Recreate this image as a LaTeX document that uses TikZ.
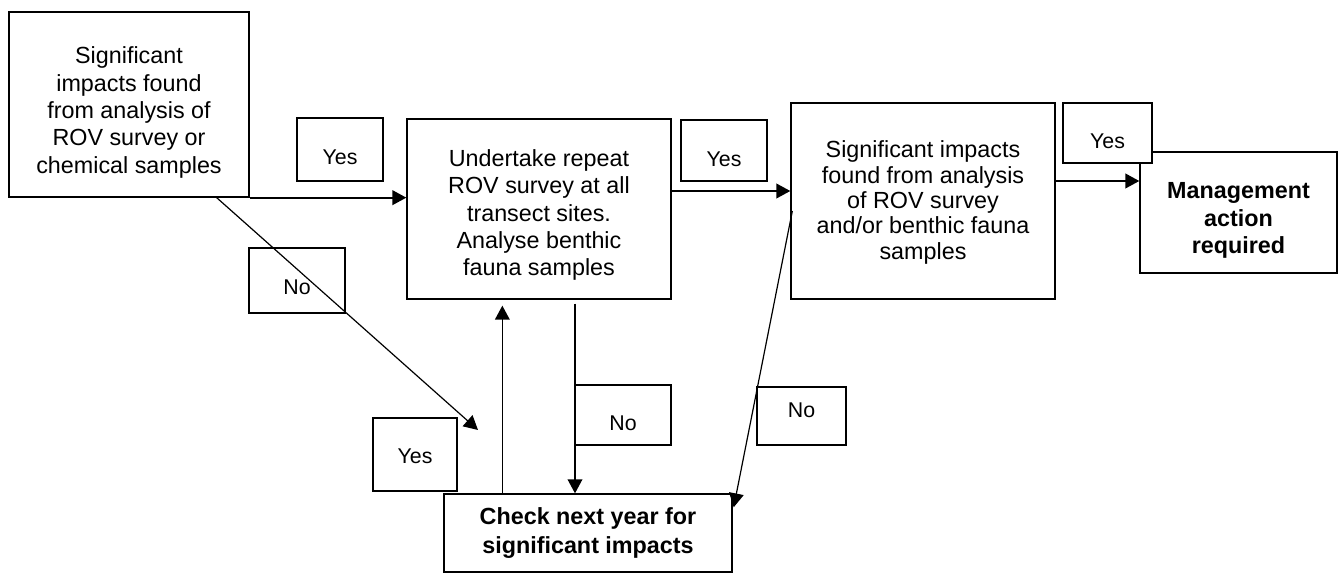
\documentclass[tikz,border=0pt]{standalone}
\usepackage{fontspec}
\setmainfont{Liberation Sans}
\usetikzlibrary{arrows.meta,calc}

\begin{document}
\begin{tikzpicture}[x=0.75pt,y=-0.75pt,
  box/.style={draw,line width=1pt,inner sep=0pt},
  txt/.style={align=center,inner sep=0pt,font=\fontsize{17.5}{20.5}\selectfont},
  tagtxt/.style={inner sep=0pt,font=\fontsize{16}{19}\selectfont},
  arr/.style={line width=1.5pt,-{Triangle[length=10.5pt,width=11pt]}}]
\useasboundingbox (0,0) rectangle (1342,573);
% boxes
\node[box,minimum width=180pt,minimum height=138.75pt,
  label={[txt,yshift=-6pt]center:{Significant\\impacts found\\from analysis of\\ROV survey or\\chemical samples}}] (found) at (129,104.5) {};
\node[box,minimum width=198pt,minimum height=135pt,
  label={[txt,yshift=-4.5pt]center:{Undertake repeat\\ROV survey at all\\transect sites.\\Analyse benthic\\fauna samples}}] (repeat) at (539,209) {};
\node[box,minimum width=198pt,minimum height=147pt,
  label={[txt,font=\fontsize{17.5}{19}\selectfont,yshift=-1pt]center:{Significant impacts\\found from analysis\\of ROV survey\\and/or benthic fauna\\samples}}] (fauna) at (923,201) {};
\node[box,minimum width=147.75pt,minimum height=90.75pt,
  label={[txt,font=\fontsize{17.5}{20.5}\selectfont\bfseries,yshift=-6pt]center:{Management\\action\\required}}] (action) at (1238.5,212.5) {};
\node[box,minimum width=216pt,minimum height=58.5pt,
  label={[txt,font=\fontsize{17.5}{21.5}\selectfont\bfseries]center:{Check next year for\\significant impacts}}] (check) at (588,533) {};
% yes / no tags
\node[box,minimum width=64.5pt,minimum height=47.25pt,label={[tagtxt,yshift=-6pt]center:Yes}] (yesA) at (340,149.5) {};
\node[box,minimum width=64.5pt,minimum height=45.75pt,label={[tagtxt,yshift=-6.5pt]center:Yes}] (yesB) at (724,150.5) {};
\node[box,fill=white,minimum width=66.75pt,minimum height=45pt,label={[tagtxt,yshift=-6.5pt]center:Yes}] (yesC) at (1107.5,133) {};
\node[box,minimum width=72pt,minimum height=48.75pt,label={[tagtxt,yshift=-5pt]center:No}] (noA) at (297,280.5) {};
\node[box,minimum width=63pt,minimum height=54.75pt,label={[tagtxt,yshift=-1.5pt]center:Yes}] (yesD) at (415,454.5) {};
\node[box,minimum width=72pt,minimum height=45pt,label={[tagtxt,yshift=-6.5pt]center:No}] (noB) at (623,415) {};
\node[box,minimum width=66.75pt,minimum height=43.5pt,label={[tagtxt,yshift=4.5pt]center:No}] (noC) at (801.5,416) {};
% end points
\coordinate (noTip) at (478,430);
\coordinate (yesOut) at ($(repeat.east)+(0,-18)$);
\coordinate (faunaOut) at ($(fauna.east)+(0,-20)$);
\coordinate (upFoot) at ($(check.north west)+(59,0)$);
\coordinate (downTop) at ($(repeat.south)+(36,0)$);
% connectors
\draw[arr] (found.south east) -- (found.south east -| repeat.west);
\draw[arr] (yesOut) -- (yesOut -| fauna.west);
\draw[arr] (faunaOut) -- (faunaOut -| action.west);
\draw[arr,line width=0.9pt] ($(found.south east)+(-33,0)$) -- (noTip);
\draw[arr,line width=1.1pt,shorten >=4.5pt] (upFoot) -- (upFoot |- repeat.south);
\draw[arr,line width=1.1pt,shorten <=3pt] (downTop) -- (downTop |- check.north);
\draw[arr,line width=0.9pt] ($(fauna.west)+(2,10)$) -- ($(check.north east)+(1,14)$);
\end{tikzpicture}
\end{document}
